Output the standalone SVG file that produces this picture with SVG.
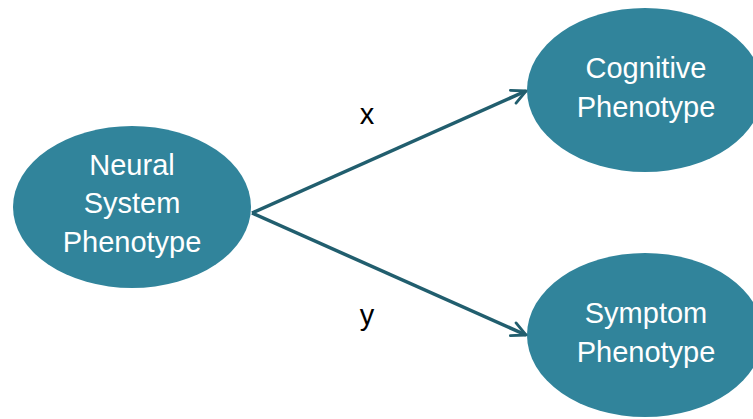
<svg xmlns="http://www.w3.org/2000/svg" width="753" height="419" viewBox="0 0 753 419">
  <style>
    .node { fill: #31849B; }
    .label { font-family: "Liberation Sans", Arial, sans-serif; font-size: 29px; fill: #FFFFFF; text-anchor: middle; }
    .edge { stroke: #215E6E; stroke-width: 3.5; fill: none; marker-end: url(#arrow); }
    .edge-label { font-family: "Liberation Sans", Arial, sans-serif; font-size: 29px; fill: #000000; text-anchor: middle; }
  </style>
  <defs>
    <marker id="arrow" viewBox="0 0 10 10" refX="9" refY="5" markerWidth="5" markerHeight="5" orient="auto" markerUnits="strokeWidth">
      <path d="M1,1 L9,5 L1,9" fill="none" stroke="#215E6E" stroke-width="1.6" stroke-linecap="round" stroke-linejoin="round"/>
    </marker>
  </defs>
  <rect width="753" height="419" fill="#FFFFFF"/>

  <g id="neural">
    <ellipse class="node" cx="132" cy="207" rx="119" ry="81"/>
    <text class="label" x="132" y="175">Neural</text>
    <text class="label" x="132" y="213">System</text>
    <text class="label" x="132" y="252">Phenotype</text>
  </g>

  <g id="cognitive">
    <ellipse class="node" cx="645" cy="90" rx="118" ry="82"/>
    <text class="label" x="646" y="78">Cognitive</text>
    <text class="label" x="646" y="117">Phenotype</text>
  </g>

  <g id="symptom">
    <ellipse class="node" cx="645" cy="335" rx="118" ry="82"/>
    <text class="label" x="646" y="323">Symptom</text>
    <text class="label" x="646" y="362">Phenotype</text>
  </g>

  <g id="connectors">
    <line class="edge" x1="252" y1="213" x2="526" y2="91"/>
    <line class="edge" x1="252" y1="213" x2="526" y2="335"/>
    <text class="edge-label" x="367" y="124">x</text>
    <text class="edge-label" x="367" y="325">y</text>
  </g>
</svg>
